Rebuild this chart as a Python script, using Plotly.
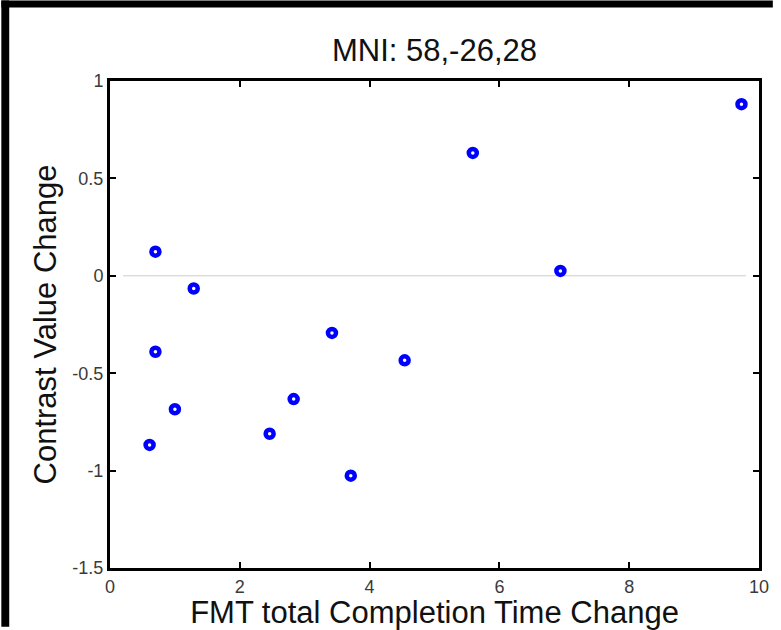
import plotly.graph_objects as go

# Data
fmt_change = [9.73, 5.59, 6.94, 0.70, 1.29, 0.70, 1.00, 0.61, 2.46, 2.83, 3.42, 3.71, 4.54]
contrast_change = [0.881, 0.631, 0.025, 0.124, -0.065, -0.39, -0.685, -0.868, -0.811, -0.633, -0.293, -1.026, -0.434]

x_ticks = [0, 2, 4, 6, 8, 10]
y_ticks = [-1.5, -1, -0.5, 0, 0.5, 1]
y_tick_text = ["-1.5", "-1", "-0.5", "0", "0.5", "1"]
zero_line_x = [0.2, 9.8]

W, H = 781, 630
ML, MR, MT, MB = 110, 14, 81, 59
pw, ph = W - ML - MR, H - MT - MB

def px_x(p):
    return (p - ML) / pw

def px_y(p):
    return (H - MB - p) / ph

fig = go.Figure()
fig.add_trace(go.Scatter(
    x=fmt_change, y=contrast_change, mode="markers",
    marker=dict(symbol="circle-open", size=8, color="#0000ff",
                line=dict(width=4.5, color="#0000ff")),
    showlegend=False, cliponaxis=False,
))

tick_font = dict(family="Liberation Sans Narrow, Liberation Sans, Arial", size=18, color="#3a3a3a")
title_font = dict(family="Liberation Sans, Arial", size=31, color="#111")

fig.update_layout(
    width=W, height=H,
    margin=dict(l=ML, r=MR, t=MT, b=MB),
    paper_bgcolor="white", plot_bgcolor="white",
    title=dict(text="MNI: 58,-26,28", x=0.5, xref="paper", xanchor="center",
               y=1 - 50 / H, yanchor="middle", font=title_font),
    xaxis=dict(range=[0, 10], tickvals=x_ticks, ticktext=[str(v) for v in x_ticks],
               ticks="inside", ticklen=6, tickwidth=2, tickcolor="black",
               showline=True, linewidth=3, linecolor="black", mirror="ticks",
               showgrid=False, zeroline=False, tickfont=tick_font,
               title=dict(text="FMT total Completion Time Change", standoff=0, font=title_font)),
    yaxis=dict(range=[-1.5, 1], tickvals=y_ticks, ticktext=y_tick_text,
               ticks="inside", ticklen=6, tickwidth=2, tickcolor="black",
               showline=True, linewidth=3, linecolor="black", mirror="ticks",
               showgrid=False, zeroline=False, tickfont=tick_font,
               title=dict(text="Contrast Value Change", standoff=7, font=title_font)),
    shapes=[
        dict(type="line", xref="x", yref="y", x0=zero_line_x[0], x1=zero_line_x[1], y0=0, y1=0,
             line=dict(color="#cccccc", width=1), layer="below"),
        dict(type="rect", xref="paper", yref="paper", x0=px_x(0), x1=px_x(8), y0=px_y(H), y1=px_y(0),
             fillcolor="black", line=dict(width=0)),
        dict(type="rect", xref="paper", yref="paper", x0=px_x(0), x1=px_x(W), y0=px_y(7), y1=px_y(0),
             fillcolor="black", line=dict(width=0)),
    ],
)

fig.write_html("out.html", config={"displayModeBar": False},
               post_script="document.body.style.margin='0';document.body.style.overflow='hidden';")
